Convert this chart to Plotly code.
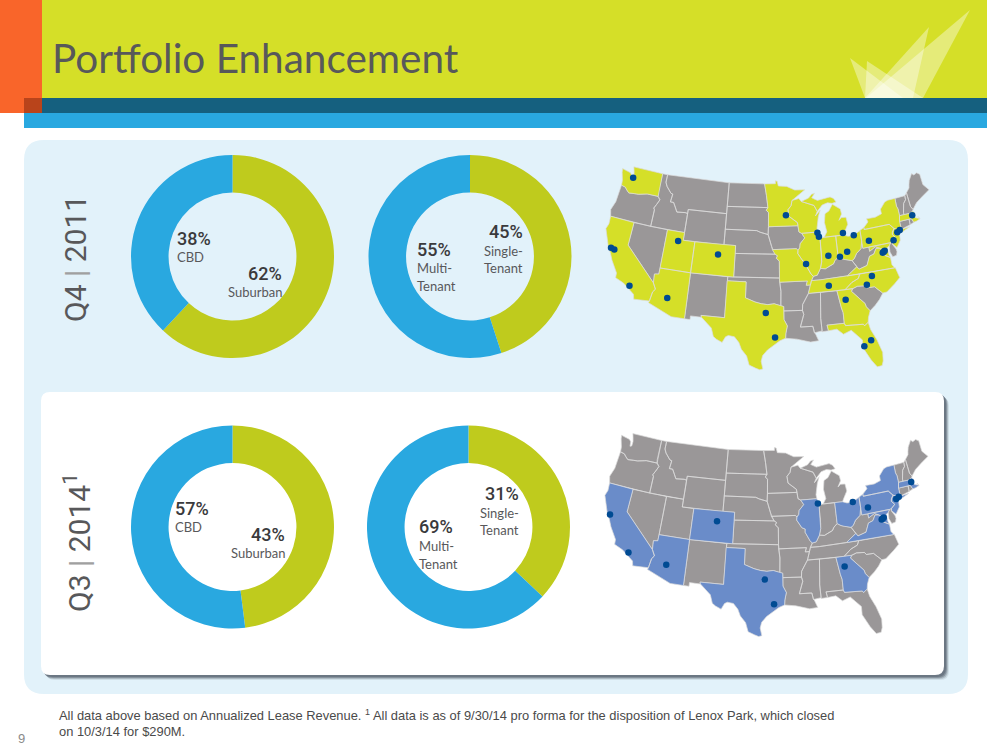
import math
import plotly.graph_objects as go

# ---------- data ----------
DONUT_LABELS_OFFICE = ["Suburban", "CBD"]
DONUT_LABELS_TENANT = ["Single-Tenant", "Multi-Tenant"]
Q4_OFFICE = [62, 38]
Q4_TENANT = [45, 55]
# slice sizes as drawn in the reference
Q3_OFFICE = [48, 52]
Q3_TENANT = [37, 63]
GREEN = "#BFCB1D"
BLUE = "#29A8E0"

STATES = {
 "WA": [[(-124.73,48.38),(-123.1,48.15),(-122.7,47.9),(-122.6,47.3),(-122.3,47.4),(-122.3,48.0),(-122.5,48.5),(-122.75,49.0),(-117.03,49.0),(-117.04,46.42),(-116.92,45.995),(-118.98,46.0),(-119.3,45.93),(-120.5,45.7),(-121.2,45.65),(-122.3,45.55),(-122.8,45.85),(-123.2,46.15),(-124.0,46.27),(-124.1,46.9),(-124.6,47.9)]],
 "OR": [[(-124.0,46.27),(-123.2,46.15),(-122.8,45.85),(-122.3,45.55),(-121.2,45.65),(-120.5,45.7),(-119.3,45.93),(-118.98,46.0),(-116.92,45.995),(-116.46,45.6),(-116.85,44.95),(-117.22,44.4),(-117.03,44.2),(-117.03,42.0),(-124.21,42.0),(-124.55,42.84),(-124.1,44.0),(-123.95,45.5)]],
 "CA": [[(-124.21,42.0),(-120.0,42.0),(-120.0,39.0),(-114.63,35.0),(-114.14,34.3),(-114.5,33.9),(-114.72,32.72),(-117.12,32.53),(-117.3,33.1),(-118.4,33.75),(-119.2,34.15),(-120.6,34.55),(-120.65,35.15),(-121.9,36.6),(-122.5,37.5),(-123.0,38.0),(-123.8,39.3),(-124.35,40.3),(-124.1,41.0)]],
 "NV": [[(-120,42),(-117.03,42),(-114.04,42),(-114.04,37),(-114.05,36.2),(-114.74,36.1),(-114.63,35),(-120,39)]],
 "ID": [[(-117.03,49),(-116.05,49),(-116.05,48),(-115.7,47.5),(-114.7,46.7),(-114.35,46.65),(-114.5,45.6),(-113.9,45.6),(-113.45,45.05),(-113.0,44.45),(-111.5,44.55),(-111.05,44.48),(-111.05,42),(-114.04,42),(-117.03,42),(-117.03,44.2),(-117.22,44.4),(-116.85,44.95),(-116.46,45.6),(-116.92,45.995),(-117.04,46.42)]],
 "MT": [[(-116.05,49),(-104.05,49),(-104.05,45),(-111.05,45),(-111.05,44.48),(-111.5,44.55),(-113.0,44.45),(-113.45,45.05),(-113.9,45.6),(-114.5,45.6),(-114.35,46.65),(-114.7,46.7),(-115.7,47.5),(-116.05,48)]],
 "WY": [[(-111.05,45),(-104.05,45),(-104.05,41),(-111.05,41)]],
 "UT": [[(-114.04,42),(-111.05,42),(-111.05,41),(-109.05,41),(-109.05,37),(-114.04,37)]],
 "CO": [[(-109.05,41),(-102.05,41),(-102.05,37),(-109.05,37)]],
 "AZ": [[(-114.05,37),(-109.05,37),(-109.05,31.33),(-111.07,31.33),(-114.81,32.5),(-114.72,32.72),(-114.5,33.9),(-114.14,34.3),(-114.63,35),(-114.74,36.1),(-114.05,36.2)]],
 "NM": [[(-109.05,37),(-103.0,37),(-103.04,32),(-106.62,32),(-106.53,31.78),(-108.2,31.78),(-108.2,31.33),(-109.05,31.33)]],
 "ND": [[(-104.05,49),(-97.23,49),(-96.85,47.5),(-96.56,45.94),(-104.05,45.94)]],
 "SD": [[(-104.05,45.94),(-96.56,45.94),(-96.85,45.6),(-96.45,45.3),(-96.45,43.5),(-96.5,42.5),(-97.9,42.8),(-98.5,43.0),(-104.05,43)]],
 "NE": [[(-104.05,43),(-98.5,43),(-97.9,42.8),(-96.5,42.5),(-96.1,41.5),(-95.9,41.0),(-95.31,40.0),(-102.05,40),(-102.05,41),(-104.05,41)]],
 "KS": [[(-102.05,40),(-95.31,40),(-94.9,39.8),(-95.1,39.5),(-94.61,39.1),(-94.62,37),(-102.05,37)]],
 "OK": [[(-103,37),(-94.62,37),(-94.43,35.4),(-94.48,33.64),(-95.5,33.9),(-96.5,33.8),(-97.5,33.9),(-98.5,34.1),(-100,34.56),(-100,36.5),(-103,36.5)]],
 "TX": [[(-103.04,36.5),(-100,36.5),(-100,34.56),(-98.5,34.1),(-97.5,33.9),(-96.5,33.8),(-95.5,33.9),(-94.48,33.64),(-94.04,33.55),(-94.04,32),(-93.55,31.2),(-93.8,30.3),(-93.85,29.7),(-94.7,29.4),(-95.5,28.9),(-96.5,28.3),(-97.2,27.6),(-97.4,26.9),(-97.15,25.96),(-97.6,25.85),(-98.2,26.05),(-99.1,26.4),(-99.5,27.5),(-100.3,28.3),(-100.7,29.1),(-101.4,29.77),(-102.3,29.88),(-102.7,29.7),(-103.15,28.98),(-104.0,29.3),(-104.5,29.6),(-104.9,30.6),(-106.53,31.78),(-106.62,32),(-103.04,32)]],
 "MN": [[(-97.23,49),(-95.15,49),(-95.15,49.38),(-94.8,49.3),(-94.6,48.7),(-93.0,48.6),(-91.5,48.07),(-89.6,48.0),(-92.1,46.75),(-92.3,46.1),(-92.9,45.6),(-92.75,44.75),(-91.3,43.9),(-91.22,43.5),(-96.45,43.5),(-96.45,45.3),(-96.85,45.6),(-96.56,45.94),(-96.85,47.5)]],
 "IA": [[(-96.45,43.5),(-91.22,43.5),(-91.1,42.7),(-90.64,42.5),(-90.15,41.9),(-91.0,41.2),(-91.1,40.7),(-91.42,40.38),(-91.7,40.6),(-95.77,40.58),(-95.9,41.0),(-96.1,41.5),(-96.5,42.5)]],
 "MO": [[(-95.77,40.58),(-91.7,40.6),(-91.42,40.38),(-91.5,40.0),(-90.7,39.0),(-90.15,38.8),(-90.2,38.4),(-89.5,37.3),(-89.15,37.0),(-89.5,36.5),(-89.7,36.0),(-90.37,36.0),(-90.15,36.5),(-94.62,36.5),(-94.62,37),(-94.61,39.1),(-95.1,39.5),(-94.9,39.8),(-95.31,40)]],
 "AR": [[(-94.62,36.5),(-90.15,36.5),(-90.37,36.0),(-89.7,36.0),(-90.1,35.0),(-91.1,33.7),(-91.17,33.0),(-94.04,33.02),(-94.04,33.55),(-94.48,33.64),(-94.43,35.4)]],
 "LA": [[(-94.04,33.02),(-91.17,33.0),(-91.0,32.5),(-91.6,31.0),(-89.73,31.0),(-89.55,30.2),(-89.4,30.05),(-89.0,29.2),(-90.2,29.1),(-91.3,29.4),(-92.2,29.55),(-93.85,29.7),(-93.8,30.3),(-93.55,31.2),(-94.04,32)]],
 "MS": [[(-90.1,35.0),(-88.2,35.0),(-88.47,31.9),(-88.4,30.35),(-89.55,30.2),(-89.73,31.0),(-91.6,31.0),(-91.0,32.5),(-91.17,33.0),(-91.1,33.7)]],
 "AL": [[(-88.2,35),(-85.6,35),(-85.18,32.87),(-85.0,32.3),(-85.0,31.0),(-87.6,31.0),(-87.45,30.3),(-88.4,30.25),(-88.47,31.9)]],
 "TN": [[(-90.1,35),(-89.7,36),(-89.5,36.5),(-88.05,36.5),(-83.68,36.6),(-81.68,36.59),(-82.0,36.1),(-83.1,35.75),(-84.32,34.99),(-85.6,35),(-88.2,35)]],
 "KY": [[(-89.5,36.5),(-89.15,37.0),(-88.5,37.1),(-87.9,37.9),(-87.1,37.8),(-86.3,38.1),(-85.7,38.3),(-85.4,38.7),(-84.8,39.1),(-84.2,38.8),(-83.7,38.65),(-82.6,38.4),(-81.97,37.54),(-83.68,36.6),(-88.05,36.5)]],
 "IL": [[(-90.64,42.5),(-87.8,42.5),(-87.53,41.7),(-87.53,39.3),(-87.6,38.7),(-87.9,37.9),(-88.5,37.1),(-89.15,37.0),(-89.5,37.3),(-90.2,38.4),(-90.15,38.8),(-90.7,39.0),(-91.5,40.0),(-91.42,40.38),(-91.1,40.7),(-91.0,41.2),(-90.15,41.9)]],
 "IN": [[(-87.53,41.7),(-87.2,41.75),(-86.8,41.76),(-84.8,41.76),(-84.8,39.1),(-85.4,38.7),(-85.7,38.3),(-86.3,38.1),(-87.1,37.8),(-87.9,37.9),(-87.6,38.7),(-87.53,39.3)]],
 "OH": [[(-84.8,41.76),(-83.45,41.73),(-82.7,41.5),(-81.7,41.5),(-80.52,41.98),(-80.52,40.64),(-80.85,39.7),(-81.7,39.2),(-82.2,38.6),(-82.6,38.4),(-83.7,38.65),(-84.2,38.8),(-84.8,39.1)]],
 "WV": [[(-80.52,40.64),(-80.52,39.72),(-79.48,39.72),(-79.48,39.2),(-78.4,39.62),(-77.72,39.32),(-78.35,39.4),(-78.87,38.76),(-79.65,38.58),(-80.3,37.5),(-81.68,37.2),(-81.97,37.54),(-82.6,38.4),(-82.2,38.6),(-81.7,39.2),(-80.85,39.7)]],
 "VA": [[(-83.68,36.6),(-81.97,37.54),(-81.68,37.2),(-80.3,37.5),(-79.65,38.58),(-78.87,38.76),(-78.35,39.4),(-77.72,39.32),(-77.1,38.9),(-77.3,38.4),(-76.3,37.9),(-76.3,37.0),(-75.95,36.55),(-81.68,36.59)]],
 "MD": [[(-79.48,39.72),(-75.79,39.72),(-76.1,39.4),(-76.5,39.2),(-76.45,38.3),(-76.3,37.95),(-77.3,38.4),(-77.1,38.9),(-77.72,39.32),(-78.4,39.62),(-79.48,39.2)]],
 "DE": [[(-75.79,39.72),(-75.4,39.8),(-75.55,39.5),(-75.1,38.8),(-75.05,38.45),(-75.25,38.03),(-75.9,37.95),(-76.2,38.6),(-76.1,39.4)]],
 "NC": [[(-84.32,34.99),(-83.1,35.75),(-82.0,36.1),(-81.68,36.59),(-75.87,36.55),(-75.5,35.25),(-76.5,34.65),(-77.9,33.9),(-78.55,33.86),(-79.67,34.8),(-80.8,34.82),(-81.04,35.1),(-82.3,35.2),(-83.1,35.0)]],
 "SC": [[(-83.1,35.0),(-82.3,35.2),(-81.04,35.1),(-80.8,34.82),(-79.67,34.8),(-78.55,33.86),(-79.2,33.2),(-80.0,32.6),(-80.9,32.05),(-81.4,32.6),(-81.5,33.0),(-82.0,33.5),(-83.35,34.7)]],
 "GA": [[(-85.6,35),(-84.32,34.99),(-83.1,35.0),(-83.35,34.7),(-82.0,33.5),(-81.5,33.0),(-81.4,32.6),(-80.9,32.05),(-81.3,31.3),(-81.45,30.72),(-82.05,30.36),(-82.2,30.57),(-84.86,30.7),(-85.0,31.0),(-85.0,32.3),(-85.18,32.87)]],
 "FL": [[(-87.6,31),(-85,31),(-84.86,30.7),(-82.2,30.57),(-82.05,30.36),(-81.45,30.72),(-81.25,29.8),(-80.55,28.4),(-80.03,26.8),(-80.15,25.75),(-80.4,25.2),(-81.1,25.15),(-81.8,26.1),(-82.7,27.7),(-82.65,28.7),(-83.5,29.5),(-84.1,30.05),(-85.3,29.7),(-86.2,30.4),(-87.45,30.3)]],
 "PA": [[(-80.52,41.98),(-79.76,42.27),(-79.76,42.0),(-75.35,42.0),(-74.7,41.36),(-75.1,40.95),(-75.2,40.65),(-74.75,40.2),(-75.4,39.8),(-75.79,39.72),(-80.52,39.72)]],
 "NY": [[(-79.76,42.27),(-78.9,42.85),(-79.05,43.27),(-77.5,43.25),(-76.3,43.5),(-76.3,44.1),(-75.3,44.85),(-74.7,45.0),(-73.35,45.0),(-73.4,44.0),(-73.25,43.6),(-73.27,42.75),(-73.5,42.05),(-73.5,41.3),(-73.65,41.0),(-72.0,41.1),(-73.75,40.6),(-74.0,40.6),(-73.9,41.0),(-74.7,41.36),(-75.35,42),(-79.76,42)]],
 "NJ": [[(-74.7,41.36),(-73.9,41.0),(-74.25,40.5),(-74.0,40.4),(-74.1,39.75),(-74.9,38.95),(-75.5,39.5),(-75.4,39.8),(-74.75,40.2),(-75.2,40.65),(-75.1,40.95)]],
 "CT": [[(-73.5,42.05),(-71.8,42.02),(-71.85,41.32),(-73.65,41.0),(-73.5,41.3)]],
 "RI": [[(-71.8,42.02),(-71.38,42.02),(-71.15,41.5),(-71.85,41.32)]],
 "MA": [[(-73.5,42.05),(-73.27,42.75),(-71.3,42.7),(-70.85,42.87),(-70.6,42.65),(-71.0,42.3),(-70.6,41.95),(-70.0,41.75),(-70.2,42.07),(-69.95,41.7),(-70.6,41.55),(-71.15,41.5),(-71.38,42.02),(-71.8,42.02)]],
 "VT": [[(-73.35,45),(-71.5,45.01),(-71.55,44.5),(-72.05,44.1),(-72.46,43.0),(-72.46,42.73),(-73.27,42.75),(-73.25,43.6),(-73.4,44.0)]],
 "NH": [[(-71.5,45.01),(-71.08,45.3),(-71.0,43.5),(-70.7,43.07),(-70.85,42.87),(-71.3,42.7),(-72.46,42.73),(-72.46,43.0),(-72.05,44.1),(-71.55,44.5)]],
 "ME": [[(-71.08,45.3),(-70.4,45.8),(-70.25,46.2),(-70.0,46.7),(-69.23,47.46),(-68.9,47.2),(-68.3,47.35),(-67.8,47.07),(-67.8,45.7),(-67.45,45.3),(-67.0,44.85),(-68.5,44.3),(-69.8,43.75),(-70.7,43.07),(-71.0,43.5)]],
 "WI": [[(-92.1,46.75),(-90.8,46.95),(-90.4,46.55),(-88.1,45.9),(-87.6,45.1),(-88.0,44.55),(-87.05,45.25),(-87.5,44.4),(-87.9,43.0),(-87.8,42.5),(-90.64,42.5),(-91.1,42.7),(-91.22,43.5),(-91.3,43.9),(-92.75,44.75),(-92.9,45.6),(-92.3,46.1)]],
 "MI": [[(-86.8,41.76),(-84.8,41.76),(-83.45,41.73),(-83.1,42.2),(-82.45,43.0),(-82.6,43.9),(-83.4,43.95),(-83.9,43.65),(-83.3,44.4),(-83.4,45.05),(-84.75,45.78),(-85.5,45.0),(-86.25,44.7),(-86.5,43.6),(-86.25,42.4)],
        [(-90.4,46.55),(-89.0,46.9),(-88.4,47.35),(-87.8,47.45),(-88.4,46.9),(-87.4,46.5),(-85.0,46.75),(-84.4,46.5),(-84.0,46.0),(-84.75,45.9),(-85.6,46.05),(-86.6,45.85),(-87.6,45.1),(-88.1,45.9)]],
}

Q4_STATES = ["WA","CA","UT","CO","AZ","TX","MN","WI","IL","MO","MI","IN","OH","PA","NY","NJ","MA","VA","MD","TN","NC","GA","FL"]
Q3_STATES = ["CA","AZ","CO","TX","IL","OH","GA","VA","MD","PA","NY","NJ","MA"]

Q4_LON = [-122.3,-122.6,-122.0,-118.2,-112.1,-111.9,-104.9,-96.8,-95.4,-93.3,-90.2,-87.9,-87.7,-83.5,-81.7,-86.4,-84.5,-83.2,-86.8,-79.3,-75.2,-74.3,-73.8,-71.1,-77.0,-77.2,-77.4,-79.8,-80.8,-84.4,-81.4,-82.5]
Q4_LAT = [47.6,38.1,38.0,34.0,33.5,40.8,39.7,32.8,29.8,44.9,38.6,42.4,41.9,42.0,41.5,39.4,39.1,39.6,35.7,40.5,39.95,40.8,41.0,42.4,38.9,38.8,38.7,36.1,35.2,33.8,28.5,27.9]
Q3_LON = [-122.6,-118.2,-112.1,-104.9,-96.8,-95.4,-87.7,-81.7,-79.3,-74.3,-73.8,-71.1,-77.0,-77.2,-77.4,-84.4]
Q3_LAT = [38.1,34.0,33.5,39.7,32.8,29.8,41.9,41.5,40.5,40.8,41.0,42.4,38.9,38.8,38.7,33.8]

TITLE = "Portfolio Enhancement"
FOOT1 = "All data above based on Annualized Lease Revenue. <sup>1</sup> All data is as of 9/30/14 pro forma for the disposition of Lenox Park, which closed"
FOOT2 = "on 10/3/14 for $290M."

W, H = 987, 752
SCALE = 448.0

def albers(lon, lat):
    p1, p2, l0, p0 = map(math.radians, (29.5, 45.5, -96.0, 37.5))
    n = (math.sin(p1) + math.sin(p2)) / 2
    c = math.cos(p1) ** 2 + 2 * n * math.sin(p1)
    r0 = math.sqrt(c - 2 * n * math.sin(p0)) / n
    r = math.sqrt(c - 2 * n * math.sin(math.radians(lat))) / n
    t = n * (math.radians(lon) - l0)
    x, y = r * math.sin(t), r0 - r * math.cos(t)
    # small corrections: the reference map is less curved in the north and taller in the south
    y += 0.016 * x * max(0.0, lat - 32) / 15
    if y < 0:
        y *= 1.05
    return x, y

def group(names):
    xs, ys = [], []
    for nm in names:
        for poly in STATES[nm]:
            pts = [albers(*p) for p in poly]
            pts.append(pts[0])
            xs += [p[0] for p in pts] + [None]
            ys += [p[1] for p in pts] + [None]
    return xs, ys

def rrect(x0, y0, x1, y1, r):
    return (f"M{x0+r},{y0} L{x1-r},{y0} Q{x1},{y0} {x1},{y0+r} L{x1},{y1-r} Q{x1},{y1} {x1-r},{y1} "
            f"L{x0+r},{y1} Q{x0},{y1} {x0},{y1-r} L{x0},{y0+r} Q{x0},{y0} {x0+r},{y0} Z")

fig = go.Figure()
fig.add_trace(go.Scatter(x=[0, W], y=[0, H], mode="markers", marker=dict(opacity=0), hoverinfo="skip", showlegend=False))

shapes = []
def rect(x0, y0, x1, y1, c, op=1):
    shapes.append(dict(type="rect", x0=x0, y0=y0, x1=x1, y1=y1, fillcolor=c, opacity=op, line=dict(width=0), layer="below", xref="x", yref="y"))
def path(d, c, op=1):
    shapes.append(dict(type="path", path=d, fillcolor=c, opacity=op, line=dict(width=0), layer="below", xref="x", yref="y"))

rect(42, 0, W, 98, "#D5DF28")
rect(0, 0, 42, 113, "#F9652A")
rect(24, 98, W, 113, "#15607F")
rect(24, 98, 42, 113, "#B9441B")
rect(24, 113, W, 128, "#29A8E0")
for d in ["M970,10 L923,98 L866,98 Z", "M929,27 L913,98 L865,98 Z", "M850,58 L865,98 L903,98 Z", "M867,61 L865,98 L923,98 Z"]:
    path(d, "#FFFFFF", 0.38)
path(rrect(24, 140, 968, 694, 20), "#E2F2FA")
for off, op in [(5, 0.15), (4, 0.3), (3, 0.5), (2, 0.7)]:
    path(rrect(41 + off, 392 + off, 944 + off, 675 + off, 9), "#5F6B78", op)
path(rrect(41, 392, 944, 675, 9), "#FFFFFF")

# donuts
R = 101.5
def donut(cx, cy, vals, labs):
    fig.add_trace(go.Pie(values=vals, labels=labs, sort=False, direction="clockwise", rotation=0, hole=0.63,
                         marker=dict(colors=[GREEN, BLUE], line=dict(width=0)), textinfo="none", textposition="none", showlegend=False, hoverinfo="label+percent",
                         domain=dict(x=[(cx - R) / W, (cx + R) / W], y=[1 - (cy + R) / H, 1 - (cy - R) / H])))
donut(232.5, 256.5, Q4_OFFICE, DONUT_LABELS_OFFICE)
donut(470, 256.5, Q4_TENANT, DONUT_LABELS_TENANT)
donut(232.5, 527, Q3_OFFICE, DONUT_LABELS_OFFICE)
donut(468.5, 527, Q3_TENANT, DONUT_LABELS_TENANT)

# maps
def map_traces(ax, highlighted, hi_color, lons, lats):
    others = [s for s in STATES if s not in highlighted]
    for names, col in ((others, "#9A9798"), (highlighted, hi_color)):
        xs, ys = group(names)
        fig.add_trace(go.Scatter(x=xs, y=ys, mode="lines", fill="toself", fillcolor=col, line=dict(color="#DCDCDC", width=0.7),
                                 hoverinfo="skip", showlegend=False, xaxis="x" + ax, yaxis="y" + ax))
    pts = [albers(a, b) for a, b in zip(lons, lats)]
    fig.add_trace(go.Scatter(x=[p[0] for p in pts], y=[p[1] for p in pts], mode="markers", marker=dict(size=6.5, color="#004B93"),
                             hoverinfo="skip", showlegend=False, xaxis="x" + ax, yaxis="y" + ax))
map_traces("2", Q4_STATES, "#D5DF28", Q4_LON, Q4_LAT)
map_traces("3", Q3_STATES, "#6A8CC9", Q3_LON, Q3_LAT)

def map_axes(x0, y0):
    return (dict(range=[(0 - x0) / SCALE, (W - x0) / SCALE], domain=[0, 1], visible=False, overlaying="x", anchor="y"),
            dict(range=[(y0 - H) / SCALE, y0 / SCALE], domain=[0, 1], visible=False, overlaying="y", anchor="x"))
x2, y2 = map_axes(771, 274)
x3, y3 = map_axes(770, 540.7)

# text
FONT = "Lato"
DARK = "#3A3A3C"
MID = "#58585A"
ann = []
def txt(x, y, s, size, color=MID, anchor="left", family=FONT, angle=0, weight=None):
    dx = {"left": -2, "right": 2, "center": 0}[anchor]
    f = dict(family=family, size=size, color=color)
    if weight:
        f["weight"] = weight
    ann.append(dict(x=x + dx, y=y, xref="x", yref="y", text=s, showarrow=False, xanchor=anchor, yanchor="middle",
                    font=f, textangle=angle, align=anchor))
txt(52, 57.5, TITLE, 40.5)
for x, y, s, a in [(177, 238, "38%", "left"), (282, 273, "62%", "right"), (523, 231, "45%", "right"), (417, 249, "55%", "left"),
                   (175, 508, "57%", "left"), (285, 534, "43%", "right"), (519, 493, "31%", "right"), (419, 526, "69%", "left")]:
    txt(x, y, s, 18, DARK, a, family="Roboto", weight=500)
for x, y, s, a in [(177, 257, "CBD", "left"), (282, 292, "Suburban", "right"), (523, 251, "Single-", "right"), (523, 268, "Tenant", "right"),
                   (417, 268, "Multi-", "left"), (417, 286, "Tenant", "left"), (175, 527, "CBD", "left"), (285, 553, "Suburban", "right"),
                   (519, 513, "Single-", "right"), (519, 530, "Tenant", "right"), (419, 546, "Multi-", "left"), (419, 564, "Tenant", "left")]:
    txt(x, y, s, 13, MID, a)
NARROW = "Liberation Sans Narrow, Roboto"
txt(75, 259, "Q4 <span style='color:#A0A0A0'>|</span> 2011", 30, MID, "center", family=NARROW, angle=-90)
txt(77, 543, "Q3 <span style='color:#A0A0A0'>|</span> 2014<sup>1</sup>", 30, MID, "center", family=NARROW, angle=-90)
txt(59, 715, FOOT1, 12.9, "#4A4A4A", family="Liberation Sans")
txt(59, 731, FOOT2, 12.9, "#4A4A4A", family="Liberation Sans")
txt(18, 738, "9", 13, "#8A8A8A", family="Liberation Sans")

fig.update_layout(
    width=W, height=H, autosize=False, margin=dict(l=0, r=0, t=0, b=0), paper_bgcolor="#FFFFFF", plot_bgcolor="#FFFFFF",
    xaxis=dict(range=[0, W], domain=[0, 1], visible=False), yaxis=dict(range=[H, 0], domain=[0, 1], visible=False),
    xaxis2=x2, yaxis2=y2, xaxis3=x3, yaxis3=y3, shapes=shapes, annotations=ann, showlegend=False, hovermode=False)
fig.write_html("out.html", post_script="document.body.style.margin='0';", config=dict(displayModeBar=False))
